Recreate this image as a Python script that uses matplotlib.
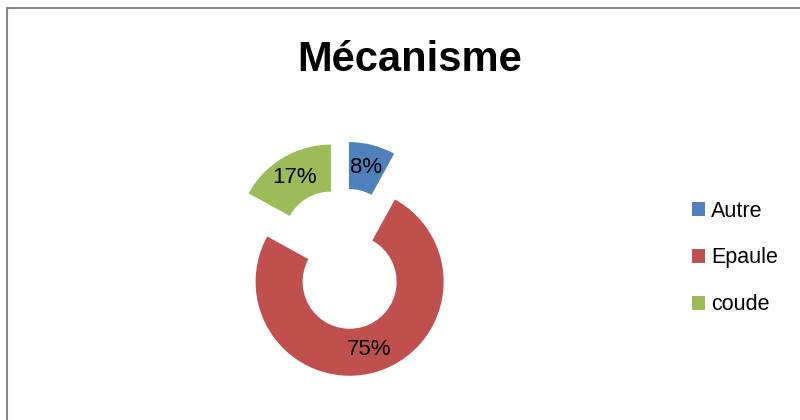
import matplotlib.pyplot as plt
from matplotlib.patches import Rectangle

labels = ['Autre', 'Epaule', 'coude']
values = [8, 75, 17]
colors = ['#4F81BD', '#C0504D', '#9BBB59']

plt.rcParams['font.family'] = ['Liberation Sans', 'DejaVu Sans']

fig = plt.figure(figsize=(8, 4.2), dpi=100)
ax = fig.add_axes([0, 0, 1, 1])

wedges, texts, autotexts = ax.pie(
    values, colors=colors, radius=94, center=(343, 161),
    explode=[23.7] * 3, startangle=90, counterclock=False,
    wedgeprops=dict(width=47, linewidth=0),
    autopct='%.0f%%', pctdistance=0.75,
    textprops=dict(fontsize=16, color='black'),
    frame=True,
)
ax.set_xlim(0, 800)
ax.set_ylim(0, 420)
ax.set_aspect('equal')
ax.axis('off')

fig.text(410 / 800, 1 - 60 / 420, 'Mécanisme', ha='center', va='center',
         fontsize=30, fontweight='bold')

leg = ax.legend(wedges, labels, loc='center left', bbox_to_anchor=(692 / 800, 1 - 258 / 420),
                frameon=False, fontsize=15.5, handlelength=0.6, handleheight=0.6,
                handletextpad=0.3, labelspacing=1.2, borderpad=0, borderaxespad=0)

fig.add_artist(Rectangle((6.5 / 800, -0.1), 1.0, 1 - 7.5 / 420 + 0.1,
                         transform=fig.transFigure, fill=False,
                         edgecolor='#868686', linewidth=1.5))

fig.savefig('out.png', dpi=100)
